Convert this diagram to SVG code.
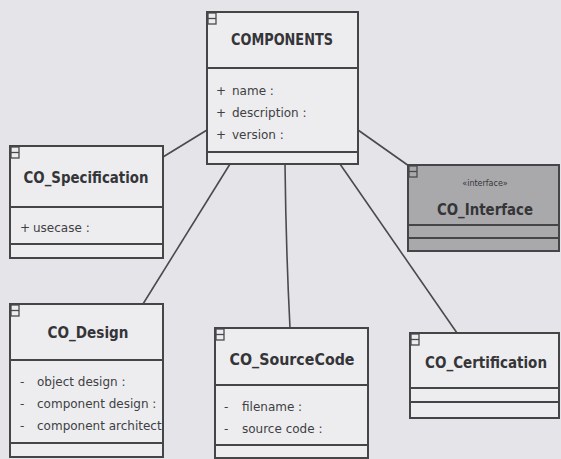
<svg xmlns="http://www.w3.org/2000/svg" width="561" height="459" viewBox="0 0 561 459">
  <style>
    .bg { fill: #e5e5e9; }
    .box { fill: #ededf0; stroke: #454548; stroke-width: 2; }
    .box.iface { fill: #a9a9ac; }
    .div { stroke: #454548; stroke-width: 2; fill: none; }
    .icon { fill: none; stroke: #4a4a4d; stroke-width: 1.3; }
    .title { font-family: "DejaVu Sans", "Liberation Sans", sans-serif; font-weight: bold; font-size: 15px; fill: #353538; text-anchor: middle; }
    .stereo { font-family: "DejaVu Sans", "Liberation Sans", sans-serif; font-size: 8px; fill: #353538; text-anchor: middle; }
    .attr { font-family: "DejaVu Sans", "Liberation Sans", sans-serif; font-size: 12px; fill: #404043; }
    .conn { stroke: #4a4a4d; stroke-width: 1.6; fill: none; }
  </style>
  <defs>
    <clipPath id="clipDesign"><rect x="11" y="361" width="151" height="82"/></clipPath>
  </defs>
  <rect class="bg" x="0" y="0" width="561" height="459"/>

  <g id="connectors">
    <line class="conn" x1="207" y1="130" x2="163" y2="157"/>
    <line class="conn" x1="358" y1="130" x2="409" y2="166"/>
    <line class="conn" x1="230" y1="164" x2="143" y2="304"/>
    <path class="conn" d="M285,164 Q286,250 290,328"/>
    <line class="conn" x1="340" y1="164" x2="457" y2="333"/>
  </g>

  <g id="components">
    <rect class="box" x="207" y="12" width="151" height="152"/>
    <line class="div" x1="207" y1="68" x2="358" y2="68"/>
    <line class="div" x1="207" y1="152" x2="358" y2="152"/>
    <rect class="icon" x="208" y="13" width="8" height="11"/><line class="icon" x1="208" y1="18.5" x2="216" y2="18.5"/>
    <text class="title" x="282" y="45" textLength="102" lengthAdjust="spacingAndGlyphs">COMPONENTS</text>
    <text class="attr" x="216" y="95">+ <tspan x="232">name :</tspan></text>
    <text class="attr" x="216" y="117">+ <tspan x="232">description :</tspan></text>
    <text class="attr" x="216" y="139">+ <tspan x="232">version :</tspan></text>
  </g>

  <g id="co-specification">
    <rect class="box" x="10" y="146" width="153" height="112"/>
    <line class="div" x1="10" y1="207" x2="163" y2="207"/>
    <line class="div" x1="10" y1="244" x2="163" y2="244"/>
    <rect class="icon" x="11" y="147" width="8" height="11"/><line class="icon" x1="11" y1="152.5" x2="19" y2="152.5"/>
    <text class="title" x="86" y="183" textLength="125" lengthAdjust="spacingAndGlyphs">CO_Specification</text>
    <text class="attr" x="20" y="232">+ <tspan x="33">usecase :</tspan></text>
  </g>

  <g id="co-interface">
    <rect class="box iface" x="408" y="165" width="151" height="86"/>
    <line class="div" x1="408" y1="225" x2="559" y2="225"/>
    <line class="div" x1="408" y1="238" x2="559" y2="238"/>
    <rect class="icon" x="409" y="166" width="8" height="11"/><line class="icon" x1="409" y1="171.5" x2="417" y2="171.5"/>
    <text class="stereo" x="485" y="186">«interface»</text>
    <text class="title" x="485" y="215" textLength="96" lengthAdjust="spacingAndGlyphs">CO_Interface</text>
  </g>

  <g id="co-design">
    <rect class="box" x="10" y="304" width="153" height="153"/>
    <line class="div" x1="10" y1="360" x2="163" y2="360"/>
    <line class="div" x1="10" y1="443" x2="163" y2="443"/>
    <rect class="icon" x="11" y="305" width="8" height="11"/><line class="icon" x1="11" y1="310.5" x2="19" y2="310.5"/>
    <text class="title" x="88" y="338" textLength="81" lengthAdjust="spacingAndGlyphs">CO_Design</text>
    <g clip-path="url(#clipDesign)">
      <text class="attr" x="20" y="386">- <tspan x="37">object design :</tspan></text>
      <text class="attr" x="20" y="408">- <tspan x="37">component design :</tspan></text>
      <text class="attr" x="20" y="430">- <tspan x="37">component architecture :</tspan></text>
    </g>
  </g>

  <g id="co-sourcecode">
    <rect class="box" x="215" y="328" width="153" height="130"/>
    <line class="div" x1="215" y1="385" x2="368" y2="385"/>
    <line class="div" x1="215" y1="445" x2="368" y2="445"/>
    <rect class="icon" x="216" y="329" width="8" height="11"/><line class="icon" x1="216" y1="334.5" x2="224" y2="334.5"/>
    <text class="title" x="292" y="365" textLength="125" lengthAdjust="spacingAndGlyphs">CO_SourceCode</text>
    <text class="attr" x="224" y="411">- <tspan x="242">filename :</tspan></text>
    <text class="attr" x="224" y="433">- <tspan x="242">source code :</tspan></text>
  </g>

  <g id="co-certification">
    <rect class="box" x="410" y="333" width="149" height="85"/>
    <line class="div" x1="410" y1="388" x2="559" y2="388"/>
    <line class="div" x1="410" y1="402" x2="559" y2="402"/>
    <rect class="icon" x="411" y="334" width="8" height="11"/><line class="icon" x1="411" y1="339.5" x2="419" y2="339.5"/>
    <text class="title" x="486" y="368" textLength="122" lengthAdjust="spacingAndGlyphs">CO_Certification</text>
  </g>
</svg>
